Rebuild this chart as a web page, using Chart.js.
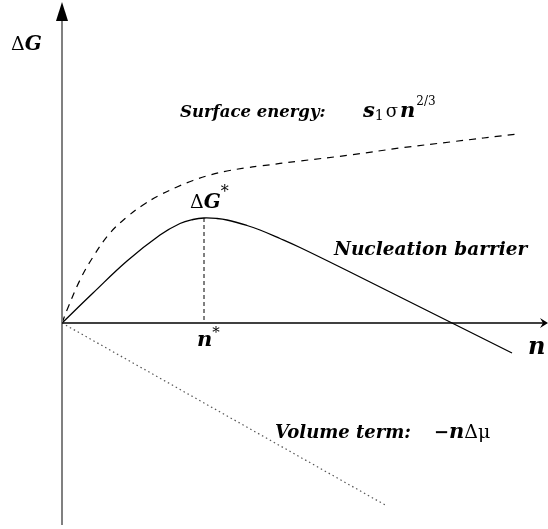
<!DOCTYPE html>
<html>
<head>
<meta charset="utf-8">
<script src="https://cdn.jsdelivr.net/npm/chart.js@4"></script>
<style>
  html, body { margin: 0; padding: 0; background: #fff; }
  #wrap { width: 548px; height: 529px; }
</style>
</head>
<body>
<div id="wrap"><canvas id="nucleationChart" width="548" height="529"></canvas></div>
<script>
// values (n and dG in arbitrary units, origin at the axes crossing)
const surfaceN = [0, 5, 18, 31, 48, 65, 81, 98, 115, 131, 148, 165, 183, 198, 238, 288, 338, 388, 455];
const surfaceG = [0, 13, 43, 66, 90, 106, 118, 128, 136, 142.5, 148, 152, 155, 157, 162, 168, 175, 181, 189];

const barrierN = [0, 31, 65, 98, 118, 131, 142, 155, 165, 185, 198, 218, 238, 288, 338, 390, 450];
const barrierG = [0, 30, 62, 88, 99.5, 103.5, 105, 104.5, 103, 97.5, 93, 84.5, 75.5, 51, 26, 0, -30];

const volumeN = [0, 325];
const volumeG = [0, -183];

const nStar = 142;
const gStar = 105;

// axis ranges
const nMin = -62, nMax = 486;
const gMin = -206, gMax = 323;

function pts(xs, ys) {
    return xs.map((x, i) => ({ x: x, y: ys[i] }));
}

const serif = '"DejaVu Serif", serif';

// axes with arrows + text labels, placed through the scales
const decorations = {
    id: 'decorations',
    afterDatasetsDraw(chart) {
        const ctx = chart.ctx;
        const sx = chart.scales.x, sy = chart.scales.y;
        const x0 = sx.getPixelForValue(0);
        const y0 = sy.getPixelForValue(0);
        ctx.save();

        // vertical axis (grey) with arrow
        ctx.strokeStyle = '#808080';
        ctx.lineWidth = 2;
        ctx.beginPath();
        ctx.moveTo(x0, 18);
        ctx.lineTo(x0, sy.getPixelForValue(gMin + 4));
        ctx.stroke();
        ctx.fillStyle = '#000';
        ctx.beginPath();
        ctx.moveTo(x0, 2);
        ctx.lineTo(x0 - 6, 21);
        ctx.lineTo(x0 + 6, 21);
        ctx.closePath();
        ctx.fill();

        // horizontal axis (black) with arrow
        ctx.strokeStyle = '#000';
        ctx.lineWidth = 1.3;
        ctx.beginPath();
        ctx.moveTo(x0, y0);
        ctx.lineTo(sx.getPixelForValue(nMax) - 3, y0);
        ctx.stroke();
        const xe = sx.getPixelForValue(nMax);
        ctx.beginPath();
        ctx.moveTo(xe, y0);
        ctx.lineTo(xe - 8, y0 - 5);
        ctx.lineTo(xe - 5, y0);
        ctx.lineTo(xe - 8, y0 + 5);
        ctx.closePath();
        ctx.fill();

        // text
        ctx.fillStyle = '#000';
        ctx.textBaseline = 'alphabetic';
        ctx.textAlign = 'left';

        function put(str, font, x, y) {
            ctx.font = font;
            ctx.fillText(str, x, y);
            return x + ctx.measureText(str).width;
        }

        // dG label on the vertical axis
        let x = put('\u0394', '19px ' + serif, 11, 50);
        put('G', 'bold italic 20px ' + serif, x, 50);

        // surface energy
        put('Surface energy:', 'bold italic 16.5px ' + serif, 180, 117);
        x = put('s', 'bold italic 21px ' + serif, 363, 117);
        x = put('1', '14px ' + serif, x, 120);
        x = put('\u03C3', '18px ' + serif, x + 2, 117);
        x = put('n', 'bold italic 21px ' + serif, x + 2, 117);
        put('2/3', '12px ' + serif, x + 1, 105);

        // peak label
        const px = sx.getPixelForValue(nStar);
        const py = sy.getPixelForValue(gStar);
        x = put('\u0394', '19px ' + serif, px - 14, py - 10);
        x = put('G', 'bold italic 20px ' + serif, x, py - 10);
        put('*', '16px ' + serif, x, py - 21);

        // n* under the axis
        x = put('n', 'bold italic 21px ' + serif, px - 7, y0 + 23);
        put('*', '15px ' + serif, x, y0 + 14);

        // n at the axis end
        put('n', 'bold italic 24px ' + serif, 528, y0 + 31);

        put('Nucleation barrier', 'bold italic 18.5px ' + serif, 334, 255);
        put('Volume term:', 'bold italic 18px ' + serif, 275, 438);
        x = put('\u2212', 'bold 18px ' + serif, 434, 438);
        x = put('n', 'bold italic 21px ' + serif, x, 438);
        put('\u0394\u03BC', '19px ' + serif, x, 438);

        ctx.restore();
    }
};

new Chart(document.getElementById('nucleationChart').getContext('2d'), {
    type: 'scatter',
    data: {
        datasets: [
            {
                label: 'Surface energy',
                data: pts(surfaceN, surfaceG),
                showLine: true,
                borderColor: '#000',
                borderWidth: 1.2,
                borderDash: [7, 6],
                pointRadius: 0,
                tension: 0.4
            },
            {
                label: 'Nucleation barrier',
                data: pts(barrierN, barrierG),
                showLine: true,
                borderColor: '#000',
                borderWidth: 1.3,
                pointRadius: 0,
                tension: 0.4
            },
            {
                label: 'Volume term',
                data: pts(volumeN, volumeG),
                showLine: true,
                borderColor: '#555',
                borderWidth: 1.2,
                borderDash: [1.5, 3],
                pointRadius: 0
            },
            {
                label: 'n*',
                data: pts([nStar, nStar], [gStar, 0]),
                showLine: true,
                borderColor: '#000',
                borderWidth: 1,
                borderDash: [4, 3],
                pointRadius: 0
            }
        ]
    },
    options: {
        responsive: false,
        animation: false,
        layout: { padding: 0 },
        plugins: {
            legend: { display: false },
            tooltip: { enabled: false }
        },
        scales: {
            x: { type: 'linear', min: nMin, max: nMax, display: false },
            y: { type: 'linear', min: gMin, max: gMax, display: false }
        }
    },
    plugins: [decorations]
});
</script>
</body>
</html>
